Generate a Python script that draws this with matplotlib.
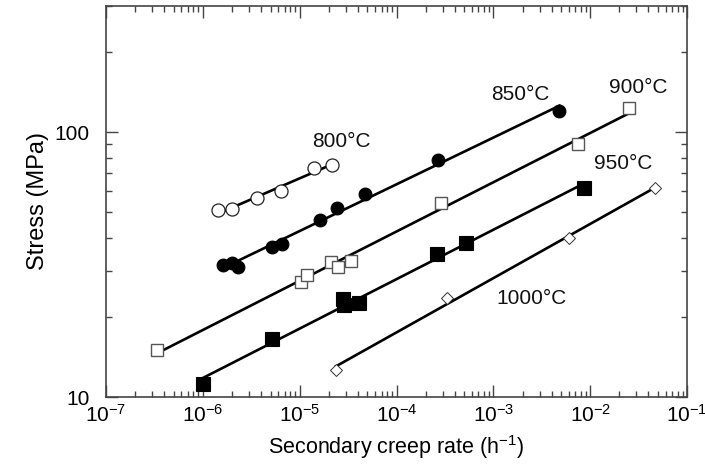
import numpy as np
import matplotlib
matplotlib.use("Agg")
import matplotlib.pyplot as plt
from matplotlib.ticker import LogLocator, NullFormatter, FixedLocator, FixedFormatter

plt.rcParams['font.family'] = ['Liberation Sans', 'DejaVu Sans']
plt.rcParams['mathtext.fontset'] = 'custom'
plt.rcParams['mathtext.rm'] = 'Liberation Sans'
plt.rcParams['mathtext.it'] = 'Liberation Sans'
plt.rcParams['mathtext.default'] = 'rm'

# ---- data (secondary creep rate in 1/h, stress in MPa) ----
rate_800 = [1.45e-6, 2.0e-6, 3.6e-6, 6.4e-6, 1.41e-5, 2.15e-5]
stress_800 = [50.8, 51.1, 56.5, 60.0, 73.3, 75.1]

rate_850 = [1.63e-6, 2.0e-6, 2.29e-6, 5.15e-6, 6.53e-6, 1.63e-5, 2.42e-5, 4.74e-5, 2.71e-4, 4.82e-3]
stress_850 = [31.5, 32.1, 30.9, 36.9, 37.8, 46.5, 51.5, 58.2, 78.4, 120.3]

rate_900 = [3.34e-7, 1.03e-5, 1.18e-5, 2.11e-5, 2.51e-5, 3.40e-5, 2.87e-4, 7.57e-3, 2.49e-2]
stress_900 = [15.1, 27.1, 28.9, 32.4, 30.9, 32.7, 53.8, 90.1, 122.8]

rate_950 = [1.01e-6, 5.22e-6, 2.81e-5, 2.88e-5, 4.14e-5, 2.61e-4, 5.24e-4, 8.53e-3]
stress_950 = [11.2, 16.5, 23.4, 22.2, 22.6, 34.6, 38.0, 61.6]

rate_1000 = [2.36e-5, 3.31e-4, 6.11e-3, 4.62e-2]
stress_1000 = [12.7, 23.6, 39.7, 61.6]

temps = ["800°C", "850°C", "900°C", "950°C", "1000°C"]
label_pos = [(2.72e-5, 91.9), (1.89e-3, 139), (3.13e-2, 148), (2.19e-2, 76.4), (2.50e-3, 23.6)]

x_ticks = [1e-7, 1e-6, 1e-5, 1e-4, 1e-3, 1e-2, 1e-1]
x_ticklabels = ["$10^{-7}$", "$10^{-6}$", "$10^{-5}$", "$10^{-4}$", "$10^{-3}$", "$10^{-2}$", "$10^{-1}$"]
y_ticks = [10, 100]
y_ticklabels = ["10", "100"]

fig = plt.figure(figsize=(7.05, 4.65), dpi=100)
ax = fig.add_axes([0.1504, 0.1462, 0.8241, 0.8415])
ax.set_xscale('log')
ax.set_yscale('log')

series = [
    (rate_800, stress_800, dict(marker='o', mfc='white', mec='#222222', ms=9.4, mew=0.9)),
    (rate_850, stress_850, dict(marker='o', mfc='black', mec='black', ms=9.2, mew=0.8)),
    (rate_900, stress_900, dict(marker='s', mfc='white', mec='#555555', ms=9.0, mew=1.0)),
    (rate_950, stress_950, dict(marker='s', mfc='black', mec='black', ms=9.4, mew=0.8)),
    (rate_1000, stress_1000, dict(marker='D', mfc='white', mec='#333333', ms=6.5, mew=0.7)),
]

for r, s, style in series:
    lr, ls = np.log10(r), np.log10(s)
    k, b = np.polyfit(lr, ls, 1)
    xf = np.array([lr.min(), lr.max()])
    ax.plot(10**xf, 10**(k*xf + b), color='black', lw=1.9, zorder=2)
    ax.plot(r, s, linestyle='none', zorder=3, **style)

for t, (lx, ly) in zip(temps, label_pos):
    ax.text(lx, ly, t, fontsize=15, ha='center', va='center', color='#111111')

ax.set_xlim(1e-7, 1e-1)
ax.set_ylim(10, 300)

ax.xaxis.set_major_locator(FixedLocator(x_ticks))
ax.xaxis.set_major_formatter(FixedFormatter(x_ticklabels))
ax.xaxis.set_minor_locator(LogLocator(base=10, subs=np.arange(2, 10)))
ax.xaxis.set_minor_formatter(NullFormatter())
ax.yaxis.set_major_locator(FixedLocator(y_ticks))
ax.yaxis.set_major_formatter(FixedFormatter(y_ticklabels))
ax.yaxis.set_minor_locator(LogLocator(base=10, subs=np.arange(2, 10)))
ax.yaxis.set_minor_formatter(NullFormatter())

ax.tick_params(which='both', direction='in', top=True, right=True, color='#444444', width=1.0)
ax.tick_params(which='major', length=8.6, labelsize=15)
ax.tick_params(which='minor', length=4.3)
ax.tick_params(axis='y', which='major', pad=12)
ax.tick_params(axis='x', which='major', pad=5)

for sp in ax.spines.values():
    sp.set_color('#444444')
    sp.set_linewidth(1.2)

ax.set_xlabel("Secondary creep rate (h$^{-1}$)", fontsize=15.5, labelpad=5)
ax.set_ylabel("Stress (MPa)", fontsize=17, labelpad=4)

fig.savefig("out.png", dpi=100)
